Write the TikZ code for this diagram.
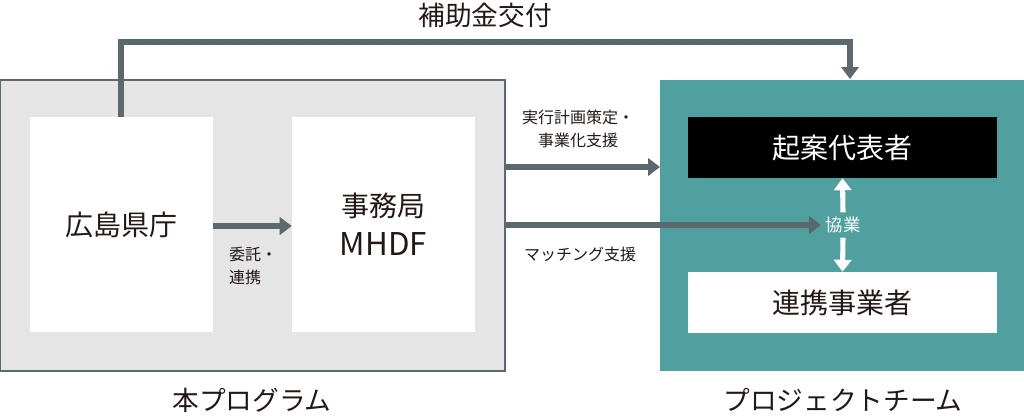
\documentclass[tikz,border=0pt]{standalone}
\usepackage{fontspec}
\setmainfont{Noto Sans CJK JP}
\usetikzlibrary{arrows.meta,calc}
\definecolor{lgray}{HTML}{E5E5E5}
\definecolor{lineg}{HTML}{5B686E}
\definecolor{teal2}{HTML}{51A0A0}
\definecolor{ink}{HTML}{231815}
\tikzstyle{wbox}=[fill=white, draw=none, inner sep=0pt]
\tikzstyle{conn}=[draw=lineg, line width=3.8pt, -{Triangle[length=9pt,width=13pt]}]
\tikzstyle{wconn}=[draw=white, line width=3.8pt, -{Triangle[length=9pt,width=13pt]}]
\tikzstyle{small}=[font=\fontsize{12}{17}\selectfont, text=ink, align=center]
\tikzstyle{big}=[font=\fontsize{21}{29}\selectfont, text=ink, align=center]
\tikzstyle{caption}=[font=\fontsize{20}{24}\selectfont, text=ink]

\begin{document}
\begin{tikzpicture}[x=0.75pt,y=-0.75pt]
\useasboundingbox (0,0) rectangle (1024,415);
% outer frames
\draw[fill=lgray, draw=lineg, line width=1.5pt] (0,80) rectangle (505,371);
\fill[teal2] (660,80) rectangle (1024,371);
\node[wbox, minimum width=137.25pt, minimum height=161.25pt] (pref) at (121.5,224.5) {};
\node[wbox, minimum width=137.25pt, minimum height=161.25pt] (office) at (383.5,224.5) {};
\node[fill=black, inner sep=0pt, minimum width=231.75pt, minimum height=45.75pt] (lead) at (842.5,147.5) {};
\node[wbox, minimum width=231.75pt, minimum height=45.75pt] (partner) at (842.5,302.5) {};
\node[big] at (pref) {広島県庁};
\node[big] at (office) {事務局\\{\fontsize{23.5}{29}\selectfont MHDF}};
\node[big, text=white] at (lead) {起案代表者};
\node[big] at (partner) {連携事業者};
\node[small, font=\fontsize{13}{17}\selectfont, text=white] (collab) at (843,225) {協業};
% connectors
\draw[conn] (pref.east |- 0,226) -- (office.west |- 0,226);
\node[small, align=left] at (253,266) {委託・\\連携};
\coordinate (top1) at (121,42);
\coordinate (top2) at (850,42);
\draw[conn] (pref.north -| top1) -- (top1) -- (top2) -- (top2 |- 0,79);
\node[caption] at (485,15) {補助金交付};
\coordinate (plan) at (505,167);
\draw[conn] (plan) -- (660,167);
\node[small] at (578,129) {実行計画策定・\\事業化支援};
\coordinate (match) at (505,225);
\draw[conn] (match) -- (collab.west);
\node[small] at (580,254) {マッチング支援};
\draw[wconn] (collab.north) -- (lead.south);
\draw[wconn] (collab.south) -- (partner.north);
% captions
\node[caption] at (252,400) {本プログラム};
\node[caption] at (843,400) {プロジェクトチーム};
\end{tikzpicture}
\end{document}
